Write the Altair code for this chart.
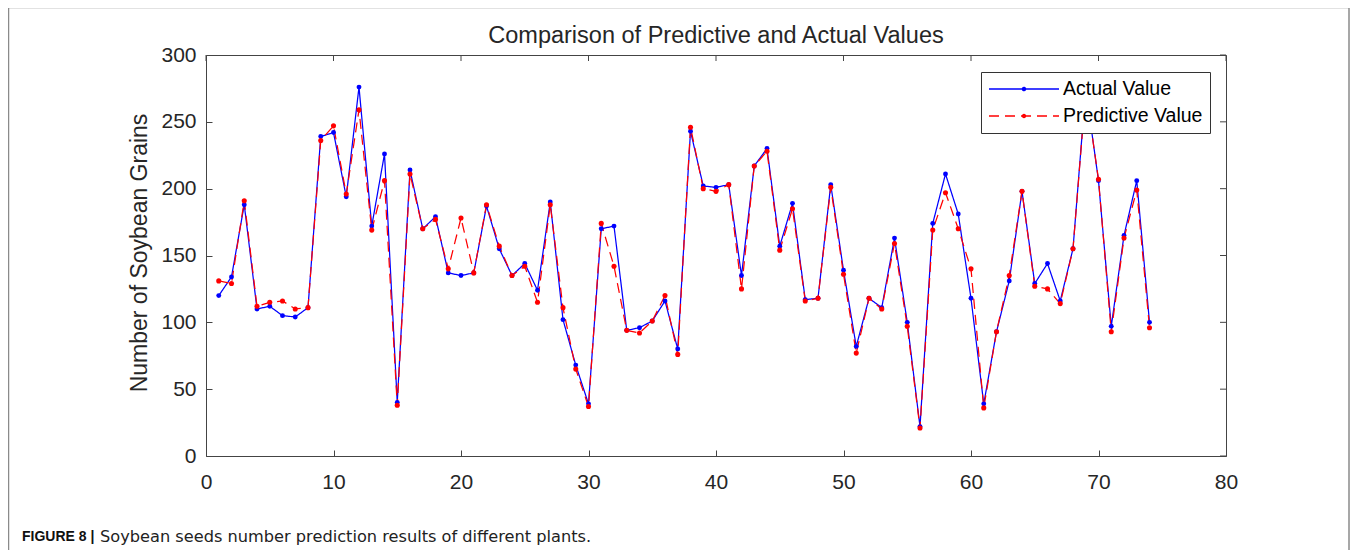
import altair as alt
import pandas as pd

# ---------------- data ----------------
plants = list(range(1, 75))
actual = [120, 134, 188, 110, 112, 105, 104, 111, 239, 242,
          194, 276, 172, 226, 40, 214, 170, 179, 137, 135,
          137, 187, 155, 135, 144, 124, 190, 102, 68, 39,
          170, 172, 94, 96, 101, 116, 80, 243, 202, 201,
          203, 135, 217, 230, 157, 189, 117, 118, 203, 139,
          82, 118, 111, 163, 100, 22, 174, 211, 181, 118,
          39, 93, 131, 198, 129, 144, 116, 155, 275, 206,
          97, 165, 206, 100]
predicted = [131, 129, 191, 112, 115, 116, 110, 111, 236, 247,
             196, 259, 169, 206, 38, 211, 170, 177, 140, 178,
             137, 188, 157, 135, 142, 115, 188, 111, 65, 37,
             174, 142, 94, 92, 101, 120, 76, 246, 200, 198,
             203, 125, 217, 228, 154, 185, 116, 118, 201, 136,
             77, 118, 110, 159, 97, 21, 169, 197, 170, 140,
             36, 93, 135, 198, 127, 125, 114, 155, 273, 207,
             93, 163, 199, 96]
series_names = ["Actual Value", "Predictive Value"]
series_colors = ["#0000ff", "#ff0000"]
x_ticks = [0, 10, 20, 30, 40, 50, 60, 70, 80]
y_ticks = [0, 50, 100, 150, 200, 250, 300]

title_text = "Comparison of Predictive and Actual Values"
y_title = "Number of Soybean Grains"
caption_bold = "FIGURE 8 |"
caption_text = "Soybean seeds number prediction results of different plants."

df = pd.DataFrame({
    "plant": plants * 2,
    "value": actual + predicted,
    "series": [series_names[0]] * len(actual) + [series_names[1]] * len(predicted),
})

W, H = 1020, 401
FONT = "Liberation Sans"
TXT = "#262626"
FRAME = "#444444"

xs = alt.Scale(domain=[0, 80], nice=False, zero=False)
ys = alt.Scale(domain=[0, 300], nice=False, zero=True)

x_axis = alt.Axis(values=x_ticks, title=None, grid=False, domain=False,
                  tickSize=6, offset=-6, tickColor=FRAME, tickWidth=1,
                  labelPadding=15, labelFontSize=21, labelFont=FONT,
                  labelColor=TXT, labelFlush=False)
y_axis = alt.Axis(values=y_ticks, title=y_title, grid=False, domain=False,
                  tickSize=6, offset=-6, tickColor=FRAME, tickWidth=1,
                  labelPadding=10, labelFontSize=21, labelFont=FONT,
                  labelColor=TXT, labelFlush=False,
                  titleFont=FONT, titleFontSize=23, titleFontWeight="normal",
                  titleColor=TXT, titleX=-73, titleY=H / 2 - 3, titleAngle=270,
                  titleBaseline="middle", titleAlign="center")

legend_symbol = ("M-0.045,0A0.045,0.045,0,1,0,0.045,0A0.045,0.045,0,1,0,-0.045,0Z"
                 "M-1,0L1,0")
legend = alt.Legend(title=None, orient="none", legendX=775, legendY=17,
                    symbolType=legend_symbol, symbolSize=4900,
                    symbolStrokeWidth=1.4, clipHeight=20, rowPadding=7,
                    labelOffset=3, labelFont=FONT, labelFontSize=19.5,
                    labelColor="#000000", padding=7, strokeColor="#333333",
                    fillColor="#ffffff", labelLimit=400)

color_scale = alt.Scale(domain=series_names, range=series_colors)
dash_scale = alt.Scale(domain=series_names, range=[[1, 0], [10, 6]])

lines = alt.Chart(df).mark_line(strokeWidth=1.25).encode(
    x=alt.X("plant:Q", scale=xs, axis=x_axis),
    y=alt.Y("value:Q", scale=ys, axis=y_axis),
    color=alt.Color("series:N", scale=color_scale, legend=legend),
    strokeDash=alt.StrokeDash("series:N", scale=dash_scale, legend=legend),
    detail="series:N",
)

pts_a = alt.Chart(df).transform_filter(
    alt.datum.series == series_names[0]
).mark_circle(size=24, opacity=1, color=series_colors[0]).encode(
    x=alt.X("plant:Q", scale=xs), y=alt.Y("value:Q", scale=ys))
pts_p = alt.Chart(df).transform_filter(
    alt.datum.series == series_names[1]
).mark_circle(size=26, opacity=1, color=series_colors[1]).encode(
    x=alt.X("plant:Q", scale=xs), y=alt.Y("value:Q", scale=ys))

# inward ticks on the top and right frame edges
top_ticks = alt.Chart(pd.DataFrame({"plant": x_ticks})).mark_rule(
    color=FRAME, strokeWidth=1).encode(
    x=alt.X("plant:Q", scale=xs), y=alt.value(0), y2=alt.value(6))
right_ticks = alt.Chart(pd.DataFrame({"value": y_ticks})).mark_rule(
    color=FRAME, strokeWidth=1).encode(
    y=alt.Y("value:Q", scale=ys), x=alt.value(W - 6), x2=alt.value(W))

one = pd.DataFrame({"k": [0]})
border = alt.Chart(one).mark_rect(fillOpacity=0, stroke="#8a8a8a",
                                  strokeWidth=1.5).encode(
    x=alt.value(-197.5), x2=alt.value(1143), y=alt.value(-47.5), y2=alt.value(520))
title_mark = alt.Chart(one).mark_text(align="center", baseline="alphabetic",
                                      font=FONT, fontSize=23.5, color=TXT).encode(
    x=alt.value(W / 2), y=alt.value(-12), text=alt.value(title_text))
cap1 = alt.Chart(one).mark_text(align="left", baseline="middle", font=FONT,
                                fontSize=14, fontWeight="bold", color="#111111").encode(
    x=alt.value(-184), y=alt.value(482), text=alt.value(caption_bold))
cap2 = alt.Chart(one).mark_text(align="left", baseline="middle", font="DejaVu Sans",
                                fontSize=16.2, color="#222222").encode(
    x=alt.value(-106), y=alt.value(482), text=alt.value(caption_text))

chart = alt.layer(
    border, lines, pts_a, pts_p, top_ticks, right_ticks, title_mark, cap1, cap2
).properties(
    width=W, height=H,
    autosize=alt.AutoSizeParams(type="none"),
    padding={"left": 198, "top": 47, "right": 124, "bottom": 94},
).configure_view(stroke=FRAME, strokeWidth=1)

chart.save("out.html", embed_options={"renderer": "svg", "actions": False})
